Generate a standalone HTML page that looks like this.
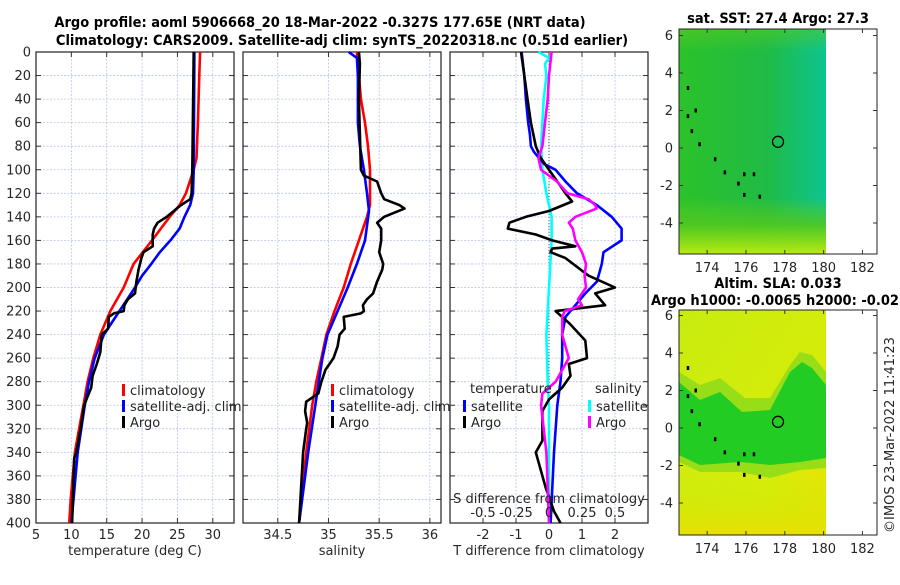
<!DOCTYPE html>
<html><head><meta charset="utf-8"><style>
body{margin:0;background:#fff;}
svg{font-family:"DejaVu Sans","Liberation Sans",sans-serif;}
.t{font-size:13px;fill:#262626;}
.b{font-family:"DejaVu Sans Condensed","DejaVu Sans",sans-serif;font-weight:bold;font-size:14.5px;fill:#000;}
</style></head><body>
<svg id="c" width="900" height="580" viewBox="0 0 900 580">
<defs>
<linearGradient id="g1" x1="0" y1="0" x2="1" y2="0"><stop offset="0" stop-color="#2cc22a"/><stop offset="0.6" stop-color="#1fbb45"/><stop offset="1" stop-color="#0dc490"/></linearGradient>
<linearGradient id="g1b" x1="0" y1="0" x2="0" y2="1"><stop offset="0" stop-color="#60cc20" stop-opacity="0.5"/><stop offset="0.1" stop-color="#60cc20" stop-opacity="0"/><stop offset="0.75" stop-color="#60cc20" stop-opacity="0"/><stop offset="0.87" stop-color="#50c820" stop-opacity="0.9"/><stop offset="1" stop-color="#b8ea10"/></linearGradient>
<linearGradient id="g2" x1="0" y1="0" x2="1" y2="1"><stop offset="0" stop-color="#c8ec10"/><stop offset="0.7" stop-color="#d8ec08"/><stop offset="1" stop-color="#f0e000"/></linearGradient>
<linearGradient id="g2b" x1="0" y1="0" x2="0" y2="1"><stop offset="0" stop-color="#c0ee10" stop-opacity="0"/><stop offset="1" stop-color="#e8e000"/></linearGradient>
</defs>
<text class="b" x="320" y="27" text-anchor="middle">Argo profile: aoml 5906668_20 18-Mar-2022 -0.327S 177.65E (NRT data)</text>
<text class="b" x="342" y="45" text-anchor="middle">Climatology: CARS2009. Satellite-adj clim: synTS_20220318.nc (0.51d earlier)</text>
<g id="panels"></g>
<g id="maps"></g>
<text class="t" transform="translate(894,435) rotate(-90)" text-anchor="middle">©IMOS 23-Mar-2022 11:41:23</text>
</svg>
<script>
// ---------- data ----------
const depthTicks=[0,20,40,60,80,100,120,140,160,180,200,220,240,260,280,300,320,340,360,380,400];
const tempTicks=[5,10,15,20,25,30];
const salTicks=[34.5,35,35.5,36];
const tdiffTicks=[-2,-1,0,1,2];
const sdiffTickLabels=["-0.5","-0.25","0","0.25","0.5"];
const sdiffTicks=[-0.5,-0.25,0,0.25,0.5];
const latTicks=[-4,-2,0,2,4,6];
const lonTicks=[174,176,178,180,182];

const tClimD=[0,20,60,90,100,120,130,140,160,180,200,220,240,260,280,300,320,340,360,380,400];
const tClimV=[28.2,28.1,27.9,27.7,27.3,26.2,25.3,23.9,21.4,18.8,17.4,15.5,14.1,13.1,12.3,11.7,11.1,10.5,10.2,9.9,9.7];
const tSatD=[0,100,120,130,140,150,160,170,180,190,200,220,240,260,280,300,340,400];
const tSatV=[27.4,27.3,27.2,26.8,26.0,25.3,24.0,22.5,21.3,20.0,19.0,16.8,14.6,13.3,12.5,11.9,10.9,10.0];
const tArgoD=[0,100,120,125,130,140,145,150,155,165,170,175,185,195,205,210,215,220,222,225,235,240,255,265,275,285,300,320,340,345,400];
const tArgoV=[27.3,27.1,27.0,26.8,25.5,23.5,22.2,21.7,21.5,21.5,20.2,19.9,19.5,19.2,19.0,18.0,17.5,17.4,16.0,15.3,15.2,14.3,14.1,13.6,13.0,12.8,11.8,11.3,10.7,10.4,10.1];

const sClimD=[0,40,60,80,100,120,130,140,160,180,200,220,240,260,280,300,340,400];
const sClimV=[35.28,35.32,35.36,35.39,35.41,35.41,35.41,35.38,35.3,35.22,35.15,35.06,34.98,34.93,34.88,34.84,34.78,34.71];
const sSatD=[0,5,20,40,60,80,100,120,135,160,180,200,220,240,260,300,340,400];
const sSatV=[35.2,35.28,35.29,35.29,35.29,35.31,35.35,35.38,35.40,35.36,35.28,35.19,35.09,34.99,34.94,34.87,34.8,34.71];
const sArgoD=[0,10,40,100,105,110,120,125,130,133,140,145,150,160,170,180,185,195,205,210,215,220,222,225,235,240,250,260,270,280,290,297,305,315,320,340,400];
const sArgoV=[35.3,35.31,35.30,35.32,35.35,35.48,35.52,35.55,35.7,35.75,35.55,35.48,35.52,35.52,35.5,35.54,35.53,35.48,35.44,35.38,35.34,35.35,35.32,35.15,35.16,35.11,35.09,35.05,34.97,34.93,34.9,34.78,34.77,34.79,34.78,34.75,34.71];

const dtSatD=[0,20,40,60,70,80,85,95,100,110,120,130,140,150,160,170,180,195,205,215,225,240,260,280,300,340,400];
const dtSatV=[-0.83,-0.75,-0.7,-0.63,-0.58,-0.55,-0.45,-0.15,0.2,0.5,0.85,1.45,1.9,2.2,2.2,1.65,1.6,1.45,1.1,0.8,0.5,0.4,0.4,0.35,0.25,0.15,0.05];
const dtArgoD=[0,20,40,60,80,90,100,110,120,127,135,140,145,150,155,160,165,167,170,175,190,200,205,215,220,230,245,260,265,275,285,295,305,315,330,340,350,370,390,400];
const dtArgoV=[-0.85,-0.75,-0.65,-0.55,-0.4,-0.25,0.0,0.25,0.5,0.7,0.0,-0.7,-1.2,-1.25,-0.4,0.1,0.8,0.1,0.05,0.5,1.2,2.0,1.4,1.7,0.2,0.6,1.1,1.15,0.6,0.65,0.4,0.0,-0.2,-0.2,-0.2,-0.4,-0.3,-0.1,0.15,0.35];
const dsSatD=[0,5,10,20,40,60,80,100,120,140,160,200,240,280,300,340,400];
const dsSatV=[-0.08,0.0,-0.03,-0.02,-0.04,-0.05,-0.06,-0.05,-0.02,0.02,0.02,0.0,-0.02,-0.01,0.0,0.0,0.0];
const dsArgoD=[0,20,40,60,80,90,100,110,115,120,125,130,133,140,145,150,160,170,180,190,200,210,215,220,225,240,260,270,280,290,300,320,340,400];
const dsArgoV=[0.02,0.0,-0.01,-0.03,-0.05,-0.08,-0.06,0.06,0.1,0.14,0.3,0.35,0.36,0.2,0.15,0.18,0.2,0.25,0.28,0.27,0.28,0.22,0.25,0.12,0.1,0.1,0.15,0.1,0.05,-0.05,-0.06,-0.04,-0.02,0.0];

const NS="http://www.w3.org/2000/svg";
function mk(tag,at,parent){const e=document.createElementNS(NS,tag);for(const k in at)e.setAttribute(k,at[k]);parent.appendChild(e);return e;}
const Y0=52,Y1=523;
const yD=d=>Y0+d*(Y1-Y0)/400;
const panels=document.getElementById('panels');

function axis(x0,x1,lo,hi){return v=>x0+(v-lo)*(x1-x0)/(hi-lo);}
function panel(name,x0,x1,xf,xt,xl,xlabel,showY){
  const g=mk('g',{},panels);
  
  
  depthTicks.forEach(d=>{if(d>0&&d<400){const l=mk('line',{x1:x0,x2:x1,y1:yD(d),y2:yD(d),stroke:'#b8c4e8','stroke-width':0.8,'stroke-dasharray':'2,1.5'},g);
    
    }
    mk('line',{x1:x0,x2:x0+5,y1:yD(d),y2:yD(d),stroke:'#333'},g);mk('line',{x1:x1-5,x2:x1,y1:yD(d),y2:yD(d),stroke:'#333'},g);
    if(showY){const t=mk('text',{x:x0-5,y:yD(d)+4.5,'text-anchor':'end',class:'t'},g);t.textContent=d;
      
      }
  });
  xt.forEach((v,i)=>{const x=xf(v);
    if(x>x0+1&&x<x1-1){const l=mk('line',{x1:x,x2:x,y1:Y0,y2:Y1,stroke:'#b8c4e8','stroke-width':0.8,'stroke-dasharray':'2,1.5'},g);
      
      }
    mk('line',{x1:x,x2:x,y1:Y0,y2:Y0+5,stroke:'#333'},g);mk('line',{x1:x,x2:x,y1:Y1-5,y2:Y1,stroke:'#333'},g);
    const t=mk('text',{x:x,y:Y1+16,'text-anchor':'middle',class:'t'},g);t.textContent=xl[i];
    
    
  });
  const r=mk('rect',{x:x0,y:Y0,width:x1-x0,height:Y1-Y0,fill:'none',stroke:'#222','stroke-width':1.2},g);
  
  
  const t=mk('text',{x:(x0+x1)/2,y:Y1+32,'text-anchor':'middle',class:'t','font-size':'13.5'},g);t.textContent=xlabel;
  
  
  return g;
}
function line(g,name,D,V,xf,color){
  const pts=D.map((d,i)=>xf(V[i]).toFixed(1)+','+yD(d).toFixed(1)).join(' ');
  const p=mk('polyline',{points:pts,fill:'none',stroke:color,'stroke-width':2.6,'stroke-linejoin':'round'},g);
  
  
}
function legend(g,x,y,items){
  items.forEach((it,i)=>{const yy=y+i*16;
    mk('rect',{x:x,y:yy-9,width:3,height:12,fill:it[1]},g);
    const t=mk('text',{x:x+8,y:yy+2,class:'t','font-size':'14'},g);t.textContent=it[0];
    
    
  });
}
// Panel 1
const xT=axis(36,234,5,33);
const p1=panel('temperature-panel',36,234,xT,tempTicks,tempTicks,'temperature (deg C)',true);
line(p1,'temp-climatology-line',tClimD,tClimV,xT,'#ff0000');
line(p1,'temp-satellite-line',tSatD,tSatV,xT,'#0000ff');
line(p1,'temp-argo-line',tArgoD,tArgoV,xT,'#000');
legend(p1,122,393,[['climatology','#ff0000'],['satellite-adj. clim','#0000ff'],['Argo','#000']]);
// Panel 2
const xS=axis(243,441,34.157,36.11);
const p2=panel('salinity-panel',243,441,xS,salTicks,salTicks,'salinity',false);
line(p2,'sal-climatology-line',sClimD,sClimV,xS,'#ff0000');
line(p2,'sal-satellite-line',sSatD,sSatV,xS,'#0000ff');
line(p2,'sal-argo-line',sArgoD,sArgoV,xS,'#000');
legend(p2,331,393,[['climatology','#ff0000'],['satellite-adj. clim','#0000ff'],['Argo','#000']]);
// Panel 3
const xDT=axis(450,648,-3,3), xDS=axis(450,648,-0.75,0.75);
const p3=panel('difference-panel',450,648,xDT,tdiffTicks,tdiffTicks,'T difference from climatology',false);
const z=mk('line',{x1:xDT(0),x2:xDT(0),y1:Y0,y2:Y1,stroke:'#555','stroke-dasharray':'1,2'},p3);


line(p3,'sdiff-satellite-line',dsSatD,dsSatV,xDS,'#00ffff');
line(p3,'tdiff-satellite-line',dtSatD,dtSatV,xDT,'#0000ff');
line(p3,'tdiff-argo-line',dtArgoD,dtArgoV,xDT,'#000');
line(p3,'sdiff-argo-line',dsArgoD,dsArgoV,xDS,'#ff00ff');
[['temperature',470,393,'start'],['salinity',595,393,'start'],['S difference from climatology',549,503,'middle']].forEach(a=>{
  const t=mk('text',{x:a[1],y:a[2],'text-anchor':a[3],class:'t','font-size':'14'},p3);t.textContent=a[0];
  
  });
sdiffTicks.forEach((v,i)=>{const t=mk('text',{x:xDS(v),y:517,'text-anchor':'middle',class:'t','font-size':'13.5'},p3);t.textContent=sdiffTickLabels[i];
  
  });
legend(p3,463,409,[['satellite','#0000ff'],['Argo','#000']]);
legend(p3,588,409,[['satellite','#00ffff'],['Argo','#ff00ff']]);

// Maps
const maps=document.getElementById('maps');
const lonX=axis(679,877,172.55,182.75);
function map(name,top,lat0y,title,shapes){
  const g=mk('g',{},maps);
  
  
  const latY=l=>lat0y-l*18.75;
  shapes(g,latY);
  const r=mk('rect',{x:679,y:top,width:198,height:225,fill:'none',stroke:'#222','stroke-width':1},g);
  
  
  latTicks.forEach(l=>{const y=latY(l);if(y<top||y>top+225)return;
    mk('line',{x1:679,x2:683,y1:y,y2:y,stroke:'#333'},g);mk('line',{x1:873,x2:877,y1:y,y2:y,stroke:'#333'},g);
    const t=mk('text',{x:673,y:y+4.5,'text-anchor':'end',class:'t'},g);t.textContent=l;
    
    });
  lonTicks.forEach(l=>{const x=lonX(l);
    mk('line',{x1:x,x2:x,y1:top,y2:top+4,stroke:'#333'},g);mk('line',{x1:x,x2:x,y1:top+221,y2:top+225,stroke:'#333'},g);
    const t=mk('text',{x:x,y:top+243,'text-anchor':'middle',class:'t'},g);t.textContent=l;
    
    });
  [[173,3.2],[173,1.7],[173.2,0.9],[173.6,0.2],[174.4,-0.6],[174.9,-1.3],[175.9,-1.4],[176.4,-1.4],[175.6,-1.9],[175.9,-2.5],[176.7,-2.6],[173.4,2.0]].forEach(p=>{
    mk('rect',{x:lonX(p[0])-1,y:latY(p[1])-2,width:2.5,height:4,fill:'#000'},g);});
  const c=mk('circle',{cx:lonX(177.65),cy:latY(0.33),r:5.5,fill:'none',stroke:'#000','stroke-width':1.3},g);
  
  
  title.forEach(tt=>{const t=mk('text',{x:tt[1],y:tt[2],'text-anchor':'middle',class:'b'},g);t.textContent=tt[0];
    
    });
}
map('sst-map',29,148,[['sat. SST: 27.4 Argo: 27.3',778,23]],(g,latY)=>{
  mk('rect',{x:679,y:29,width:147,height:225,fill:'url(#g1)'},g);
  mk('rect',{x:679,y:29,width:147,height:225,fill:'url(#g1b)'},g);
});
map('sla-map',310,428,[['Altim. SLA: 0.033',778,288],['Argo h1000: -0.0065 h2000: -0.02',775,305]],(g,latY)=>{
  mk('rect',{x:679,y:310,width:147,height:225,fill:'url(#g2)'},g);
  mk('polygon',{points:'679,372 700,385 720,378 745,398 770,398 790,365 800,352 812,355 826,372 826,468 800,470 770,478 740,472 700,472 679,462',fill:'#98de18'},g);
  mk('polygon',{points:'679,382 700,400 720,392 742,412 770,410 790,372 802,362 812,368 826,385 826,458 800,462 770,465 740,462 700,465 679,455',fill:'#22cc22'},g);
  mk('rect',{x:679,y:475,width:147,height:59,fill:'url(#g2b)'},g);
});
</script>
</body></html>
